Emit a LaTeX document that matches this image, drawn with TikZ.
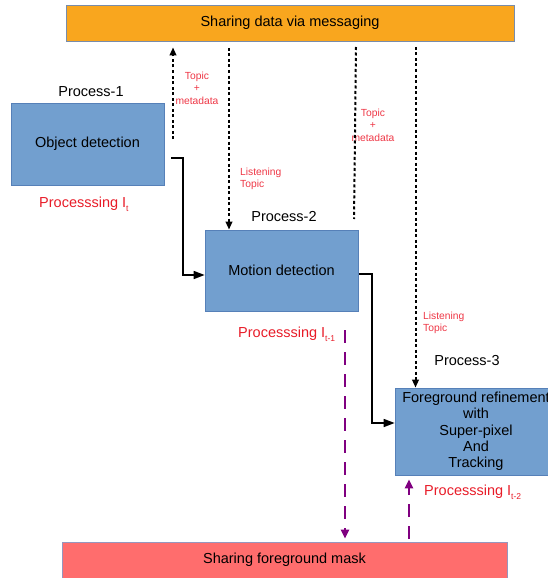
\documentclass[tikz,border=0pt]{standalone}
\usepackage{fontspec}
\setmainfont{Liberation Sans}
\usetikzlibrary{arrows.meta}
\definecolor{boxblue}{RGB}{114,159,207}
\definecolor{boxedge}{RGB}{86,128,184}
\definecolor{orangefill}{RGB}{249,166,30}
\definecolor{orangeedge}{RGB}{120,140,170}
\definecolor{redfill}{RGB}{255,109,109}
\definecolor{redge}{RGB}{150,150,190}
\definecolor{labelred}{RGB}{232,28,40}
\definecolor{smallred}{RGB}{238,55,70}
\definecolor{purp}{RGB}{128,0,128}
\newcommand{\sub}[1]{\raisebox{-4.5pt}{\fontsize{8.5}{8.5}\selectfont #1}}
\begin{document}
\begin{tikzpicture}[x=1pt,y=-1pt,
  bigtext/.style={font=\fontsize{14.5}{16.3}\selectfont, text=black},
  procbox/.style={bigtext, draw=boxedge, fill=boxblue, line width=0.7pt, inner sep=0pt, align=center},
  busbox/.style={bigtext, line width=0.7pt, inner sep=0pt},
  proclabel/.style={bigtext, inner sep=0pt},
  redlabel/.style={font=\fontsize{14.5}{16.3}\selectfont, text=labelred, inner sep=0pt, anchor=base west},
  smalllabel/.style={font=\fontsize{10.3}{12.5}\selectfont, text=smallred, inner sep=0pt},
  flow/.style={line width=1.6pt, -{Triangle[length=11pt,width=8pt]}},
  msg/.style={line width=2pt, dash pattern=on 3pt off 2.5pt},
  msgarrow/.style={msg, -{Triangle[length=8pt,width=6.5pt]}},
  pdash/.style={draw=purp, line width=2.5pt, dash pattern=on 13pt off 9pt, -{Triangle[length=9pt,width=8pt]}}
]
\useasboundingbox (0,0) rectangle (548,578);
\clip (0,0) rectangle (548,578);

% shared buses
\node[busbox, draw=orangeedge, fill=orangefill, minimum width=448pt, minimum height=36pt] (top) at (290,23) {Sharing data via messaging};
\node[busbox, draw=redge, fill=redfill, minimum width=445pt, minimum height=36pt] (bot) at (284.5,560) {Sharing foreground mask};

% processes
\node[procbox, minimum width=153pt, minimum height=82pt] (p1) at (87.5,144) {Object detection};
\node[procbox, minimum width=153pt, minimum height=81pt] (p2) at (281.5,270.5) {Motion detection};
\node[procbox, minimum width=162pt, minimum height=87pt] (p3) at (476,431.5) {Foreground refinement\\with\\Super-pixel\\And\\Tracking};

\node[proclabel] (pl1) at (91,92) {Process-1};
\node[proclabel] (pl2) at (284,217) {Process-2};
\node[proclabel] (pl3) at (467,361) {Process-3};

\node[redlabel] (r1) at (39,207) {Processsing I\sub{t}};
\node[redlabel] (r2) at (238,337) {Processsing I\sub{t-1}};
\node[redlabel] (r3) at (424,495) {Processsing I\sub{t-2}};

\node[smalllabel, align=center] (tm1) at (197,88) {Topic\\+\\metadata};
\node[smalllabel, align=center] (tm2) at (373,125) {Topic\\+\\metadata};
\node[smalllabel, align=left, anchor=west] (lt1) at (240,179) {Listening\\Topic};
\node[smalllabel, align=left, anchor=west] (lt2) at (423,323) {Listening\\Topic};

% solid flow connectors
\coordinate (s1) at (171,158);
\coordinate (k1) at (183,158);
\draw[flow] (s1) -- (k1) |- ([yshift=-4.5pt]p2.west);
\coordinate (s2) at (359,274);
\coordinate (k2) at (372,274);
\draw[flow] (s2) -- (k2) |- ([yshift=8.5pt]p3.west);

% messaging connectors
\coordinate (a1) at (173,139);
\draw[msgarrow, shorten >=6pt] (a1) -- (a1 |- top.south);
\coordinate (a2) at (229,48);
\draw[msgarrow] (a2) -- (a2 |- p2.north);
\coordinate (a3) at (356,47);
\coordinate (b3) at (354,219);
\draw[msg] (a3) -- (b3);
\coordinate (a4) at (415.5,47);
\draw[msgarrow] (a4) -- (a4 |- p3.north);

% mask connectors
\coordinate (c1) at (345,330);
\draw[pdash, shorten >=3pt] (c1) -- (c1 |- bot.north);
\coordinate (c2) at (409,539);
\draw[pdash, shorten >=4pt] (c2) -- (c2 |- p3.south);
\end{tikzpicture}
\end{document}
